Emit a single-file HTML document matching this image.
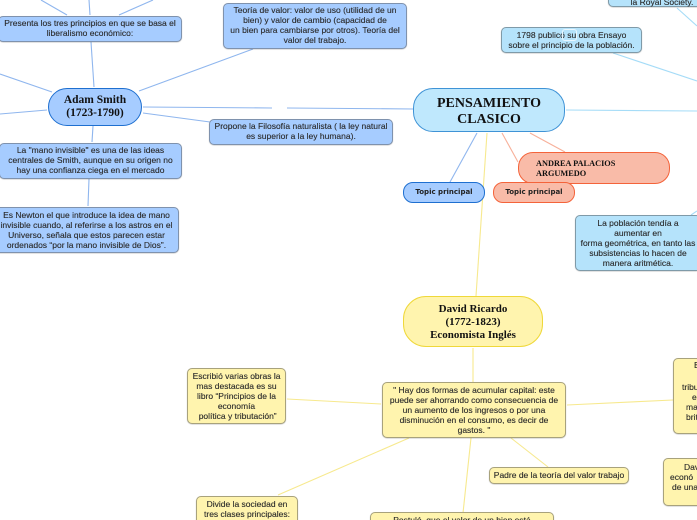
<!DOCTYPE html>
<html><head><meta charset="utf-8">
<style>
html,body{margin:0;padding:0;background:#fff}
#c{position:relative;width:697px;height:520px;overflow:hidden;background:#fff;font-family:"Liberation Sans",sans-serif;filter:blur(.3px)}
svg{position:absolute;left:0;top:0}
.b{position:absolute;box-sizing:border-box;border:1.4px solid #7d8ca3;border-radius:5px;text-align:center;font-size:8.5px;line-height:10.1px;color:#2a2a2a;white-space:nowrap;-webkit-text-stroke:.12px #2a2a2a;box-shadow:0 .5px 1px rgba(90,90,90,.35)}
.bl{background:#a6ccff;border-color:#7f92ad}
.cy{background:#b5e3fb;border-color:#7f9aa8}
.ye{background:#fff4ae;border-color:#a8a27c}
.t{position:absolute;box-sizing:border-box;text-align:center;font-family:"Liberation Serif",serif;font-weight:bold;color:#111;white-space:nowrap}
.tp{position:absolute;box-sizing:border-box;border-radius:10px;text-align:center;font-family:"DejaVu Sans",sans-serif;font-weight:bold;font-size:7px;line-height:18px;color:#222}
.x{position:absolute;white-space:nowrap;font-size:8.5px;line-height:10.1px;color:#2a2a2a;-webkit-text-stroke:.12px #2a2a2a}
</style></head><body><div id="c">
<svg width="697" height="520" fill="none" stroke-width="1.1">
<g stroke="#8fb6ee">
<line x1="41" y1="0" x2="67" y2="15"/><line x1="89" y1="0" x2="90" y2="15"/><line x1="153" y1="0" x2="119" y2="15"/>
<line x1="94" y1="87" x2="91" y2="42"/><line x1="0" y1="74" x2="52" y2="92"/><line x1="0" y1="114" x2="47" y2="110"/>
<line x1="139" y1="91" x2="253" y2="49"/><line x1="93" y1="126" x2="92" y2="142"/><line x1="89" y1="179" x2="88" y2="206"/>
<line x1="143" y1="113" x2="210" y2="122"/><line x1="143" y1="107" x2="272" y2="108"/><line x1="287" y1="108" x2="414" y2="109"/>
<line x1="477" y1="133" x2="450" y2="182"/>
</g>
<g stroke="#a5dcf7"><line x1="566" y1="110" x2="697" y2="111"/><line x1="613" y1="53" x2="697" y2="81"/><line x1="677" y1="8" x2="697" y2="26"/><line x1="691" y1="215" x2="697" y2="211"/></g>
<g stroke="#f7b09a"><line x1="502" y1="133" x2="518" y2="162"/><line x1="530" y1="133" x2="565" y2="152"/></g>
<g stroke="#f7e98e"><line x1="487" y1="133" x2="476" y2="296"/><line x1="473" y1="348" x2="473" y2="382"/>
<line x1="381" y1="404" x2="287" y2="399"/><line x1="409" y1="438" x2="278" y2="495"/><line x1="471" y1="438" x2="463" y2="513"/><line x1="511" y1="438" x2="548" y2="467"/><line x1="567" y1="405" x2="673" y2="400"/></g>
</svg>

<div class="b bl" style="left:-2px;top:16px;width:184px;height:26px;padding-top:1px">Presenta los tres principios en que se basa el<br>liberalismo económico:</div>
<div class="b bl" style="left:-1px;top:143px;width:183px;height:36px;padding-top:1px">La "mano invisible" es una de las ideas<br>centrales de Smith, aunque en su origen no<br>hay una confianza ciega en el mercado</div>
<div class="b bl" style="left:-6px;top:207px;width:185px;height:46px;padding-top:2px">Es Newton el que introduce la idea de mano<br>invisible cuando, al referirse a los astros en el<br>Universo, señala que estos parecen estar<br>ordenados “por la mano invisible de Dios”.</div>
<div class="t" style="left:48px;top:88px;width:94px;height:38px;background:#a6ccff;border:1px solid #1e6fd0;border-radius:19px;font-size:11.5px;line-height:13px;padding-top:5px">Adam Smith<br>(1723-1790)</div>
<div class="b bl" style="left:223px;top:3px;width:184px;height:46px;padding-top:1px">Teoría de valor: valor de uso (utilidad de un<br>bien) y valor de cambio (capacidad de<br>un bien para cambiarse por otros). Teoría del<br>valor del trabajo.</div>
<div class="b bl" style="left:209px;top:119px;width:184px;height:26px;padding-top:1px">Propone la Filosofía naturalista ( la ley natural<br>es superior a la ley humana).</div>

<div class="t" style="left:413px;top:88px;width:152px;height:44px;background:#bfe8fd;border:1px solid #3f93d6;border-radius:20px;font-size:14px;line-height:16px;padding-top:7px">PENSAMIENTO<br>CLASICO</div>
<div class="b cy" style="left:608px;top:-20px;width:108px;height:27px;padding-top:16px">la Royal Society.</div>
<div class="b cy" style="left:501px;top:27px;width:141px;height:26px;padding-top:2px">1798 publicó su obra Ensayo<br>sobre el principio de la población.</div>
<div style="position:absolute;left:562px;top:29px;width:13px;height:10px;border:1px solid #eaf7fe;border-radius:3px"></div>
<div class="t" style="left:518px;top:152px;width:152px;height:32px;background:#f9bba8;border:1px solid #f4633a;border-radius:15px;font-size:8.3px;line-height:10px;padding:6px 0 0 17px;text-align:left">ANDREA PALACIOS<br>ARGUMEDO</div>
<div class="tp" style="left:403px;top:182px;width:82px;height:21px;background:#a6ccff;border:1px solid #1e6fd0;">Topic principal</div>
<div class="tp" style="left:493px;top:182px;width:82px;height:21px;background:#f9bba8;border:1px solid #f4633a;">Topic principal</div>
<div class="b cy" style="left:575px;top:215px;width:126px;height:56px;padding-top:2px">La población tendía a<br>aumentar en<br>forma geométrica, en tanto las<br>subsistencias lo hacen de<br>manera aritmética.</div>

<div class="t" style="left:403px;top:296px;width:140px;height:51px;background:#fff4ae;border:1px solid #efd83a;border-radius:23px;font-size:11px;line-height:13px;padding-top:6px">David Ricardo<br>(1772-1823)<br>Economista Inglés</div>
<div class="b ye" style="left:382px;top:382px;width:184px;height:56px;padding-top:2px">" Hay dos formas de acumular capital: este<br>puede ser ahorrando como consecuencia de<br>un aumento de los ingresos o por una<br>disminución en el consumo, es decir de<br>gastos. "</div>
<div class="b ye" style="left:187px;top:368px;width:99px;height:56px;padding-top:2px">Escribió varias obras la<br>mas destacada es su<br>libro “Principios de la<br>economía<br>&nbsp;política y tributación”</div>
<div class="b ye" style="left:196px;top:496px;width:102px;height:40px;padding-top:2px">Divide la sociedad en<br>tres clases principales:</div>
<div class="b ye" style="left:370px;top:512px;width:184px;height:30px;padding-top:2px">Postuló, que el valor de un bien está</div>
<div class="b ye" style="left:489px;top:467px;width:140px;height:17px;padding-top:2px">Padre de la teoría del valor trabajo</div>
<div class="b ye" style="left:673px;top:358px;width:60px;height:76px"></div>
<div class="x" style="left:694px;top:360px">E</div>
<div class="x" style="left:682px;top:382px">tribu</div>
<div class="x" style="left:692px;top:392px">e</div>
<div class="x" style="left:686px;top:402px">ma</div>
<div class="x" style="left:686px;top:412px">brit</div>
<div class="b ye" style="left:663px;top:458px;width:70px;height:48px"></div>
<div class="x" style="left:684px;top:462px">Dav</div>
<div class="x" style="left:670px;top:472px">econó</div>
<div class="x" style="left:672px;top:482px">de una</div>
</div></body></html>
